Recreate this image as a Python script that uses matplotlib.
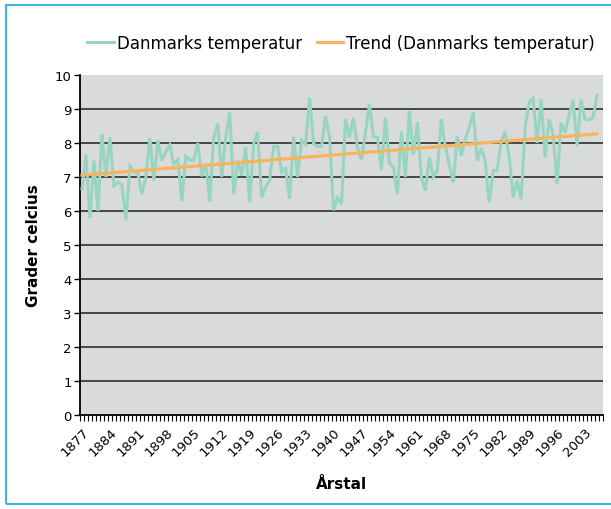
import matplotlib
matplotlib.use("Agg")
import matplotlib.pyplot as plt
import numpy as np
from matplotlib.patches import Rectangle

first_year = 1877
last_category = 2007
temperature = [
    6.65, 7.66, 5.80, 7.48, 6.00, 8.26, 7.00, 8.17, 6.75, 6.85,
    6.78, 5.72, 7.32, 7.15, 7.10, 6.50, 7.00, 8.15, 6.90, 8.07,
    7.48, 7.73, 7.94, 7.38, 7.50, 6.30, 7.60, 7.50, 7.50, 8.00,
    7.02, 7.40, 6.27, 8.18, 8.57, 7.00, 8.16, 8.90, 6.50, 7.48,
    7.05, 7.88, 6.25, 7.98, 8.33, 6.41, 6.70, 6.90, 7.90, 7.90,
    7.15, 7.25, 6.36, 8.18, 7.00, 8.08, 7.96, 9.33, 7.98, 7.90,
    7.90, 8.78, 8.18, 6.02, 6.39, 6.20, 8.70, 8.17, 8.74, 7.87,
    7.50, 8.30, 9.14, 8.18, 8.17, 7.20, 8.75, 7.40, 7.30, 6.50,
    8.34, 7.00, 8.94, 7.65, 8.62, 7.00, 6.60, 7.58, 7.00, 7.20,
    8.70, 7.90, 7.36, 6.85, 8.20, 7.63, 8.12, 8.46, 8.90, 7.48,
    7.85, 7.46, 6.25, 7.19, 7.19, 8.05, 8.33, 7.60, 6.40, 6.89,
    6.35, 8.46, 9.20, 9.31, 8.00, 9.29, 7.58, 8.70, 8.25, 6.80,
    8.60, 8.30, 8.80, 9.27, 7.92, 9.28, 8.69, 8.68, 8.75, 9.40,
]
label_step = 7
y_ticks = [0, 1, 2, 3, 4, 5, 6, 7, 8, 9, 10]

categories = list(range(first_year, last_category + 1))
n_cat = len(categories)
x = np.arange(len(temperature))
coef = np.polyfit(x, temperature, 1)
trend = np.polyval(coef, x)

W, H = 611, 510
fig = plt.figure(figsize=(W / 100, H / 100), dpi=100)
plt.rcParams['font.family'] = ['DejaVu Sans']

ax = fig.add_axes([80 / W, 1 - 416 / H, (603 - 80) / W, (416 - 76) / H])
ax.set_facecolor('#d9dadc')

teal = '#98d5c0'
orange = '#f8b35e'
ax.plot(x, temperature, color=teal, lw=2.2, solid_joinstyle='miter',
        label='Danmarks temperatur', zorder=3)
ax.plot(x, trend, color=orange, lw=2.3, label='Trend (Danmarks temperatur)', zorder=4)

ax.set_ylim(0, 10)
ax.set_xlim(-0.5, n_cat - 0.5)
ax.set_yticks(y_ticks)
ax.tick_params(axis='y', labelsize=9.5, length=4, width=1, pad=2)
for v in y_ticks[1:-1]:
    ax.axhline(v, color='#1f1f1f', lw=1.1, zorder=2)

label_pos = list(range(0, n_cat, label_step))
ax.set_xticks(label_pos)
ax.set_xticklabels([str(categories[p]) for p in label_pos], rotation=45,
                   ha='right', va='top', rotation_mode='anchor', fontsize=9.5)
ax.tick_params(axis='x', which='major', length=0, pad=7)
ax.set_xticks(np.arange(-0.5, n_cat, 1.0), minor=True)
ax.tick_params(axis='x', which='minor', length=4, width=0.8, color='black')

for s in ['top', 'right']:
    ax.spines[s].set_visible(False)
ax.spines['left'].set_linewidth(1.3)
ax.spines['bottom'].set_linewidth(1.3)

ax.set_ylabel('Grader celcius', fontsize=11, fontweight='bold', labelpad=10)
ax.set_xlabel('Årstal', fontsize=11, fontweight='bold', labelpad=13)

fig.legend(loc='center', bbox_to_anchor=(341 / W, 1 - 44 / H), ncol=2,
           frameon=False, fontsize=12, handlelength=1.6, handletextpad=0.15,
           columnspacing=0.9)

fig.patches.append(Rectangle((6 / W, 1 - 505 / H), (W + 10) / W, (505 - 6) / H,
                             transform=fig.transFigure, fill=False,
                             edgecolor='#3db5dc', lw=1.5))

fig.savefig('out.png', dpi=100)
